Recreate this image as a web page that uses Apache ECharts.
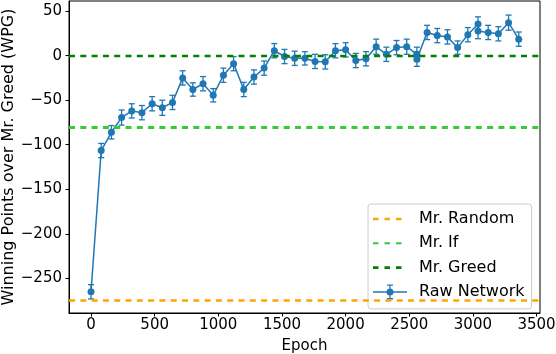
<!DOCTYPE html>
<html lang="en">
<head>
    <meta charset="UTF-8">
    <title>Winning Points over Mr. Greed</title>
    <script src="https://cdn.jsdelivr.net/npm/echarts@6/dist/echarts.min.js"></script>
    <style>
        html, body { margin: 0; padding: 0; background: #ffffff; }
        #main { width: 556px; height: 354px; }
    </style>
</head>
<body>
<div id="main"></div>
<script type="text/javascript">
    // epochs (2560 and 3040 appear twice in the source plot)
    var epochs = [0, 80, 160, 240, 320, 400, 480, 560, 640, 720, 800, 880, 960, 1040, 1120, 1200,
        1280, 1360, 1440, 1520, 1600, 1680, 1760, 1840, 1920, 2000, 2080, 2160, 2240, 2320, 2400,
        2480, 2560, 2560, 2640, 2720, 2800, 2880, 2960, 3040, 3040, 3120, 3200, 3280, 3360];
    // WPG of the raw network
    var wpg = [-265, -106.5, -86, -69.5, -62, -64, -54, -58.5, -52.5, -25, -38, -31.5, -44.5, -22, -9, -38,
        -24, -14, 5.5, -1, -3, -3, -6.5, -7, 5.5, 6.5, -5.5, -3.5, 10, 1.5, 9,
        10, 1.5, -4, 26, 22.5, 21, 9, 23.5, 35.5, 27.5, 26, 24.5, 37, 18.5];
    // error bar half-heights
    var wpgErr = [8, 8, 7.5, 8.5, 8, 8, 8, 8.5, 8, 8, 7.5, 8, 7.5, 8, 8, 8,
        8, 8, 8, 8, 8, 7.5, 8, 8, 8, 8, 8, 8, 8.5, 8, 8,
        8.5, 8, 8, 8, 8, 8, 7.5, 8, 8, 8.5, 8, 8, 8.5, 8];
    // baselines
    var baselineNames = ['Mr. Random', 'Mr. If', 'Mr. Greed'];
    var baselineValues = [-275, -80, 0];
    var baselineColors = ['#ffa500', '#32cd32', '#008000'];
    var baselineWidths = [2.7, 3, 2.3];
    // ticks
    var xTicks = [0, 500, 1000, 1500, 2000, 2500, 3000, 3500];
    var yTicks = [-250, -200, -150, -100, -50, 0, 50];

    var FONT = 'DejaVu Sans';
    var BLUE = '#1f77b4';

    var lineData = epochs.map(function (e, i) { return [e, wpg[i]]; });
    var errData = epochs.map(function (e, i) { return [e, wpg[i], wpgErr[i]]; });

    function fmt(v) {
        return v < 0 ? '\u2212' + (-v) : String(v);
    }

    // legend handles drawn as paths: three dashes, and line + marker + error bar
    function dashIcon(t) {
        return 'path://M0,0h5.5v' + t + 'h-5.5Z M11.5,0h5.5v' + t + 'h-5.5Z M23,0h5.5v' + t + 'h-5.5Z M34,0L34,' + t + 'Z';
    }
    var legendThick = [2.7, 2, 2.7];
    var rawIcon = 'path://M0,6.75h34v1.5h-34Z M16.35,0h1.3v15h-1.3Z M14,0h6v1.3h-6Z M14,13.7h6v1.3h-6Z ' +
        'M13.5,7.5a3.5,3.5 0 1,1 7,0a3.5,3.5 0 1,1 -7,0Z';

    var series = [];
    // dashed horizontal baselines
    baselineNames.forEach(function (name, i) {
        series.push({
            name: name,
            type: 'line',
            data: [],
            symbol: 'none',
            itemStyle: { color: baselineColors[i] },
            lineStyle: { color: baselineColors[i], width: baselineWidths[i], type: [6, 5.3] },
            markLine: {
                silent: true,
                symbol: 'none',
                label: { show: false },
                lineStyle: { color: baselineColors[i], width: baselineWidths[i], type: [6, 5.3] },
                data: [{ yAxis: baselineValues[i] }]
            },
            z: 1
        });
    });
    // error bars
    series.push({
        type: 'custom',
        data: errData,
        z: 2,
        renderItem: function (params, api) {
            var x = api.value(0), y = api.value(1), e = api.value(2);
            var top = api.coord([x, y + e]);
            var bot = api.coord([x, y - e]);
            var st = { stroke: BLUE, lineWidth: 1.3 };
            return {
                type: 'group',
                children: [
                    { type: 'line', shape: { x1: top[0], y1: top[1], x2: bot[0], y2: bot[1] }, style: st },
                    { type: 'line', shape: { x1: top[0] - 3, y1: top[1], x2: top[0] + 3, y2: top[1] }, style: st },
                    { type: 'line', shape: { x1: bot[0] - 3, y1: bot[1], x2: bot[0] + 3, y2: bot[1] }, style: st }
                ]
            };
        }
    });
    // raw network curve
    series.push({
        name: 'Raw Network',
        type: 'line',
        data: lineData,
        symbol: 'circle',
        symbolSize: 7,
        itemStyle: { color: BLUE },
        lineStyle: { color: BLUE, width: 1.5 },
        z: 3
    });

    var legendData = baselineNames.map(function (name, i) {
        return { name: name, icon: dashIcon(legendThick[i]) };
    });
    legendData.push({ name: 'Raw Network', icon: rawIcon });

    var option = {
        animation: false,
        backgroundColor: '#ffffff',
        grid: {
            left: 69, right: 16, top: 1, bottom: 41,
            outerBoundsMode: 'none',
            containLabel: false,
            show: true, borderColor: '#000000', borderWidth: 1, backgroundColor: 'transparent'
        },
        legend: {
            orient: 'vertical',
            left: 368,
            top: 204,
            data: legendData,
            itemWidth: 34,
            itemHeight: 15,
            itemGap: 8.3,
            padding: [7, 7, 9, 5],
            backgroundColor: 'rgba(255,255,255,0.8)',
            borderColor: '#cccccc',
            borderWidth: 1,
            borderRadius: 3,
            textStyle: { fontFamily: FONT, fontSize: 16, lineHeight: 15, color: '#000000', padding: [0, 0, 0, 7] }
        },
        xAxis: {
            type: 'value',
            min: -173,
            max: 3527,
            name: 'Epoch',
            nameLocation: 'middle',
            nameGap: 26,
            nameMoveOverlap: false,
            nameTextStyle: { fontFamily: FONT, fontSize: 15, color: '#000000' },
            axisLine: { show: true, onZero: false, lineStyle: { color: '#000000', width: 1 } },
            axisTick: { show: true, inside: false, length: 3.5, customValues: xTicks, lineStyle: { color: '#000000' } },
            axisLabel: { customValues: xTicks, margin: 5, fontFamily: FONT, fontSize: 15, color: '#000000', formatter: fmt },
            splitLine: { show: false }
        },
        yAxis: {
            type: 'value',
            min: -288.8,
            max: 61.3,
            name: 'Winning Points over Mr. Greed (WPG)',
            nameLocation: 'middle',
            nameGap: 52,
            nameMoveOverlap: false,
            nameTextStyle: { fontFamily: FONT, fontSize: 16, color: '#000000' },
            axisLine: { show: true, onZero: false, lineStyle: { color: '#000000', width: 1 } },
            axisTick: { show: true, inside: false, length: 3.5, customValues: yTicks, lineStyle: { color: '#000000' } },
            axisLabel: { customValues: yTicks, margin: 7, fontFamily: FONT, fontSize: 15, color: '#000000', formatter: fmt },
            splitLine: { show: false }
        },
        series: series
    };

    var chart = echarts.init(document.getElementById('main'), null, { renderer: 'canvas' });
    chart.setOption(option);
</script>
</body>
</html>
